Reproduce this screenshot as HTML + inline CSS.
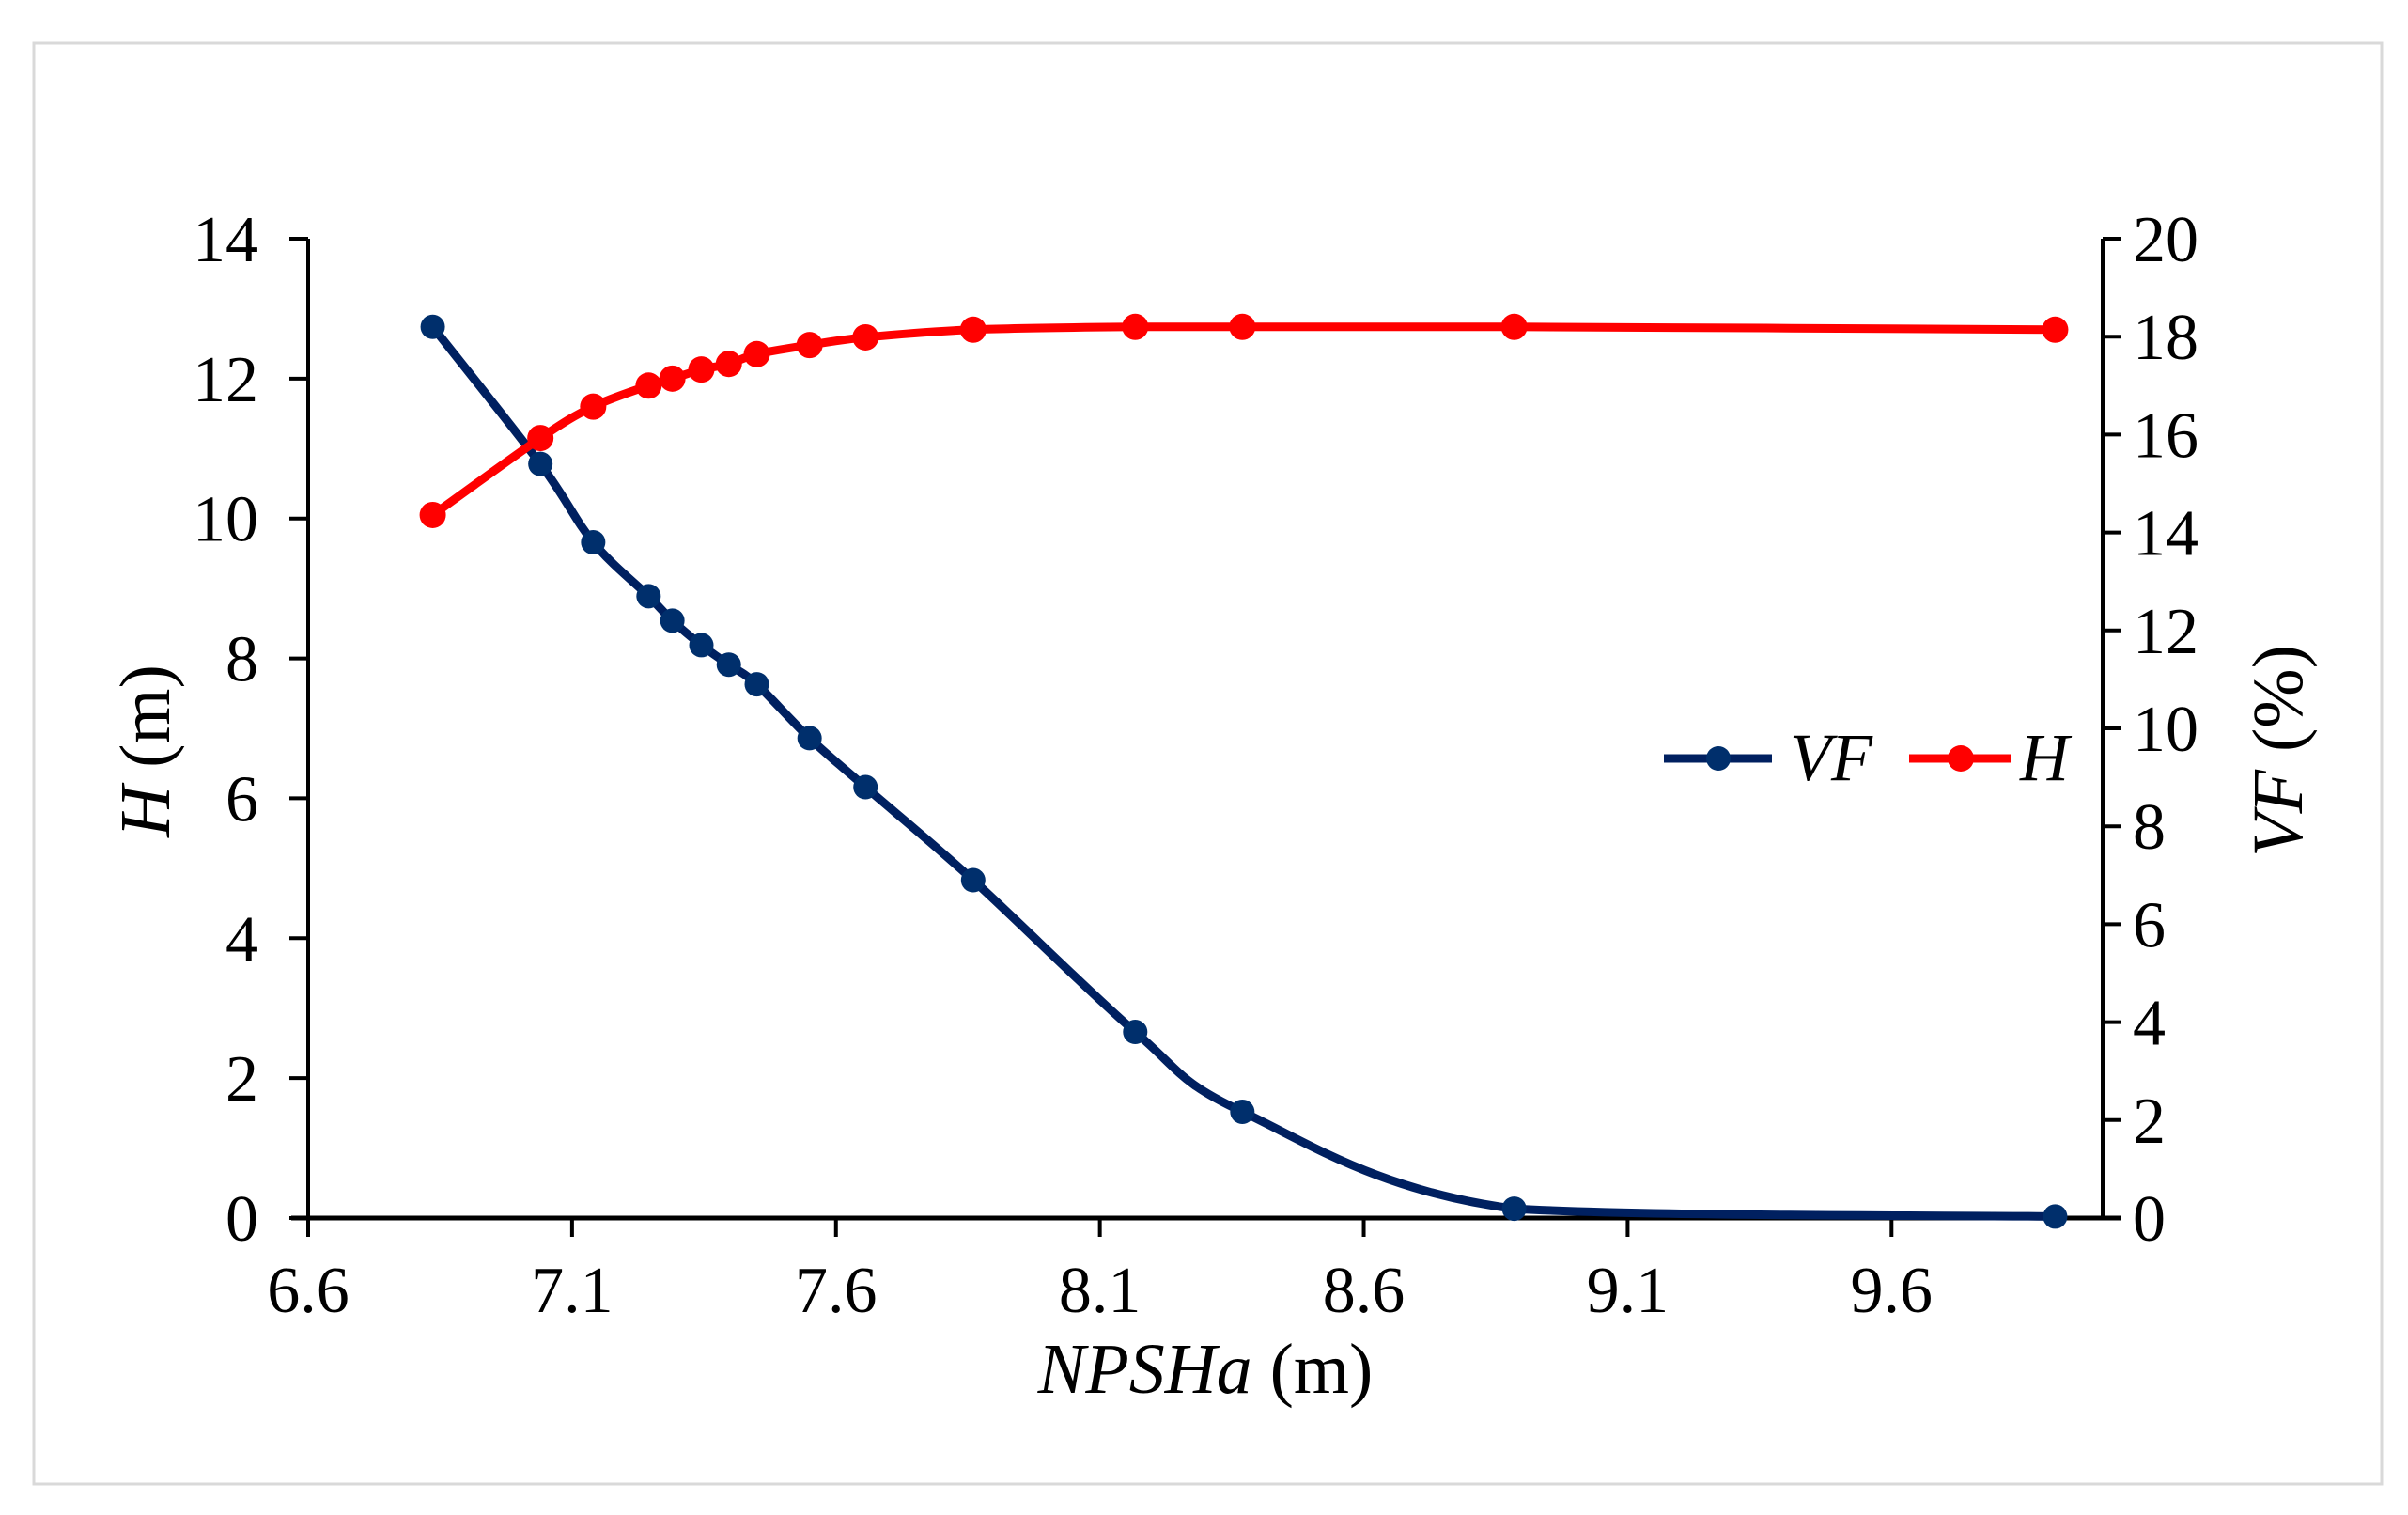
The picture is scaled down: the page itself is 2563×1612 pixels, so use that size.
<!DOCTYPE html>
<html><head><meta charset="utf-8"><style>
html,body{margin:0;padding:0;background:#fff;}
svg{display:block;}
svg text{font-family:"Liberation Serif","Times New Roman",serif;}
</style></head><body>
<svg id="chart" width="2563" height="1612" viewBox="0 0 2563 1612" xmlns="http://www.w3.org/2000/svg">
<rect x="36" y="46" width="2499" height="1533" fill="#fff" stroke="#d9d9d9" stroke-width="3"/>
<g id="axes"></g>
<g id="series"></g>
<g id="legend">
  <line x1="1771" y1="807" x2="1886" y2="807" stroke="#002060" stroke-width="9"/>
  <circle cx="1829" cy="807" r="13" fill="#002f6c"/>
  <text x="1905" y="830" font-size="72" font-style="italic">VF</text>
  <line x1="2032" y1="807" x2="2140" y2="807" stroke="#ff0000" stroke-width="9"/>
  <circle cx="2087" cy="807" r="14" fill="#ff0000"/>
  <text x="2150" y="830" font-size="72" font-style="italic">H</text>
</g>
<text x="1283" y="1482" font-size="76" text-anchor="middle"><tspan font-style="italic">NPSHa</tspan> (m)</text>
<text transform="translate(180,799) rotate(-90)" font-size="76" text-anchor="middle"><tspan font-style="italic">H</tspan> (m)</text>
<text transform="translate(2450,799) rotate(-90)" font-size="76" text-anchor="middle"><tspan font-style="italic">VF</tspan> (%)</text>
</svg>
<script>
const xValues = [6.836, 7.04, 7.14, 7.245, 7.29, 7.345, 7.397, 7.45, 7.55, 7.656, 7.86, 8.167, 8.37, 8.885, 9.91];
const vfValues = [18.2, 15.4, 13.8, 12.7, 12.2, 11.7, 11.3, 10.9, 9.8, 8.8, 6.9, 3.8, 2.17, 0.19, 0.03];
const hValues = [10.05, 11.15, 11.6, 11.9, 12.0, 12.13, 12.21, 12.35, 12.48, 12.59, 12.70, 12.74, 12.74, 12.74, 12.70];
const xTicks = [6.6, 7.1, 7.6, 8.1, 8.6, 9.1, 9.6];
const xTickLabels = ["6.6", "7.1", "7.6", "8.1", "8.6", "9.1", "9.6"];
const hTicks = [0, 2, 4, 6, 8, 10, 12, 14];
const vfTicks = [0, 2, 4, 6, 8, 10, 12, 14, 16, 18, 20];

const NS = "http://www.w3.org/2000/svg";
const L = 328, R = 2238, T = 254, B = 1296;
const X0 = 6.6, X1 = 10.0;
function xs(v){ return L + (v - X0) / (X1 - X0) * (R - L); }
function yH(v){ return B - v / 14 * (B - T); }
function yVF(v){ return B - v / 20 * (B - T); }
function mk(tag, attrs, parent){
  const e = document.createElementNS(NS, tag);
  for (const k in attrs) e.setAttribute(k, attrs[k]);
  parent.appendChild(e);
  return e;
}
const axes = document.getElementById('axes');
const series = document.getElementById('series');

let a = mk('line', {x1:L, y1:T, x2:L, y2:B, stroke:'#000', 'stroke-width':4}, axes);


a = mk('line', {x1:R, y1:T, x2:R, y2:B, stroke:'#000', 'stroke-width':4}, axes);


a = mk('line', {x1:L-18, y1:B, x2:R+20, y2:B, stroke:'#000', 'stroke-width':5}, axes);



hTicks.forEach(v => {
  const y = yH(v);
  mk('line', {x1:L-20, y1:y, x2:L, y2:y, stroke:'#000', 'stroke-width':4}, axes);
  const t = mk('text', {x:275, y:y+24, 'font-size':70, 'text-anchor':'end'}, axes);
  t.textContent = String(v);
  
  
});
vfTicks.forEach(v => {
  const y = yVF(v);
  mk('line', {x1:R, y1:y, x2:R+20, y2:y, stroke:'#000', 'stroke-width':4}, axes);
  const t = mk('text', {x:2270, y:y+24, 'font-size':70, 'text-anchor':'start'}, axes);
  t.textContent = String(v);
  
  
});
xTicks.forEach((v, i) => {
  const x = xs(v);
  mk('line', {x1:x, y1:B, x2:x, y2:B+20, stroke:'#000', 'stroke-width':4}, axes);
  const t = mk('text', {x:x, y:1396, 'font-size':70, 'text-anchor':'middle'}, axes);
  t.textContent = xTickLabels[i];
  
  
});

function clamp(v, a, b){ const lo = Math.min(a,b), hi = Math.max(a,b); return Math.max(lo, Math.min(hi, v)); }
function smoothPath(pts){
  let d = 'M' + pts[0][0] + ',' + pts[0][1];
  for (let i = 0; i < pts.length - 1; i++){
    const p0 = pts[Math.max(0, i-1)], p1 = pts[i], p2 = pts[i+1], p3 = pts[Math.min(pts.length-1, i+2)];
    const k = 1/6;
    const c1x = p1[0] + (p2[0]-p0[0])*k, c2x = p2[0] - (p3[0]-p1[0])*k;
    const c1y = clamp(p1[1] + (p2[1]-p0[1])*k, p1[1], p2[1]);
    const c2y = clamp(p2[1] - (p3[1]-p1[1])*k, p1[1], p2[1]);
    d += ' C' + c1x + ',' + c1y + ' ' + c2x + ',' + c2y + ' ' + p2[0] + ',' + p2[1];
  }
  return d;
}
function drawSeries(vals, yf, color, mcolor, name, r){
  const pts = xValues.map((x, i) => [xs(x), yf(vals[i])]);
  const p = mk('path', {d:smoothPath(pts), fill:'none', stroke:color, 'stroke-width':9, 'stroke-linejoin':'round'}, series);
  
  
  pts.forEach(pt => {
    const c = mk('circle', {cx:pt[0], cy:pt[1], r:r, fill:mcolor}, series);
    
    
  });
}
drawSeries(vfValues, yVF, '#002060', '#002f6c', 'vf', 13);
drawSeries(hValues, yH, '#ff0000', '#ff0000', 'h', 14);
</script>
</body></html>
